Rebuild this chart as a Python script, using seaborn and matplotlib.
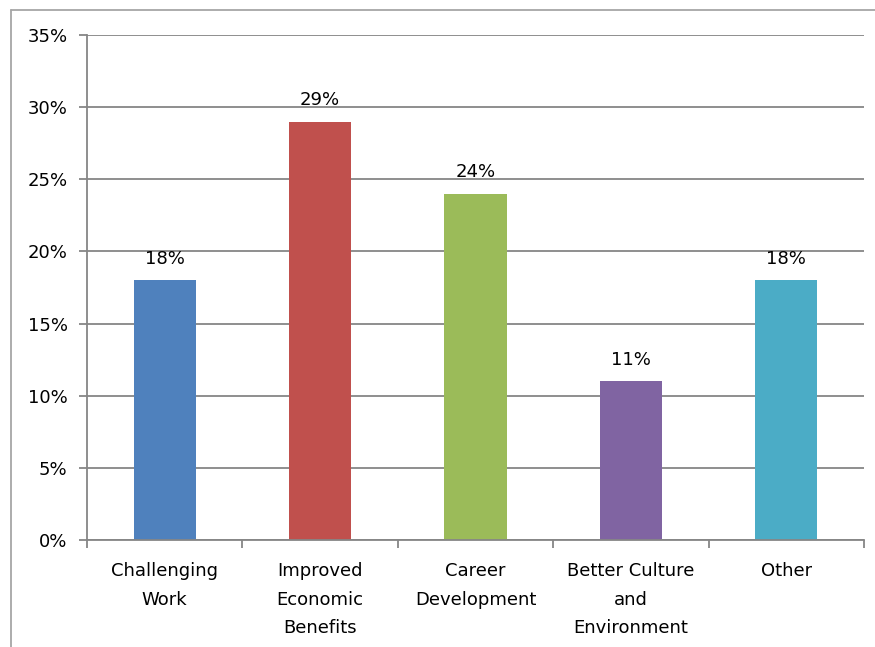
import matplotlib
matplotlib.use("Agg")
import matplotlib.pyplot as plt
import seaborn as sns
import pandas as pd
import numpy as np
from matplotlib.ticker import FuncFormatter, FixedLocator

categories = ["Challenging\nWork", "Improved\nEconomic\nBenefits", "Career\nDevelopment",
              "Better Culture\nand\nEnvironment", "Other"]
values = [18, 29, 24, 11, 18]
colors = ["#4F81BD", "#C0504D", "#9BBB59", "#8064A2", "#4BACC6"]
yticks = [0, 5, 10, 15, 20, 25, 30, 35]

sns.set_theme(style="white")
plt.rcParams['font.family'] = ['DejaVu Sans']

df = pd.DataFrame({"cat": categories, "val": values})

fig = plt.figure(figsize=(8.75, 6.47), dpi=100)
ax = fig.add_axes([87/875, 1 - 540/647, (864-87)/875, (540-35)/647])

sns.barplot(data=df, x="cat", y="val", hue="cat", palette=colors, legend=False,
            width=0.4, ax=ax, saturation=1, linewidth=0, edgecolor="none")

grid_c = "#868686"
ax.set_ylim(0, 35)
ax.set_xlim(-0.5, len(categories) - 0.5)
ax.set_yticks(yticks)
ax.yaxis.set_major_formatter(FuncFormatter(lambda v, p: f"{int(v)}%"))
ax.grid(axis="y", color=grid_c, linewidth=1.3)
ax.set_axisbelow(True)
for s in ["top", "right"]:
    ax.spines[s].set_visible(False)
ax.spines["left"].set_color(grid_c)
ax.spines["bottom"].set_color(grid_c)
ax.spines["left"].set_linewidth(1.3)
ax.spines["bottom"].set_linewidth(1.3)

ax.tick_params(axis="y", which="major", left=True, length=6, width=1.3, color=grid_c,
               labelsize=13, pad=8, labelcolor="black")
ax.tick_params(axis="x", which="major", bottom=False, labelsize=13, pad=10, labelcolor="black")
ax.xaxis.set_minor_locator(FixedLocator(np.arange(-0.5, len(categories), 1.0)))
ax.tick_params(axis="x", which="minor", bottom=True, length=6, width=1.3, color=grid_c)
for lbl in ax.get_xticklabels():
    lbl.set_linespacing(1.75)
ax.set_xlabel("")
ax.set_ylabel("")

for i, v in enumerate(values):
    ax.annotate(f"{v}%", (i, v), xytext=(0, 9), textcoords="offset points",
                ha="center", va="bottom", fontsize=13, color="black")

# outer frame (partially visible)
fig.add_artist(plt.Line2D([11/875, 1], [1 - 10/647, 1 - 10/647], transform=fig.transFigure,
                          color="#A6A6A6", linewidth=1.3))
fig.add_artist(plt.Line2D([11/875, 11/875], [0, 1 - 10/647], transform=fig.transFigure,
                          color="#A6A6A6", linewidth=1.3))

fig.savefig("out.png", dpi=100)
